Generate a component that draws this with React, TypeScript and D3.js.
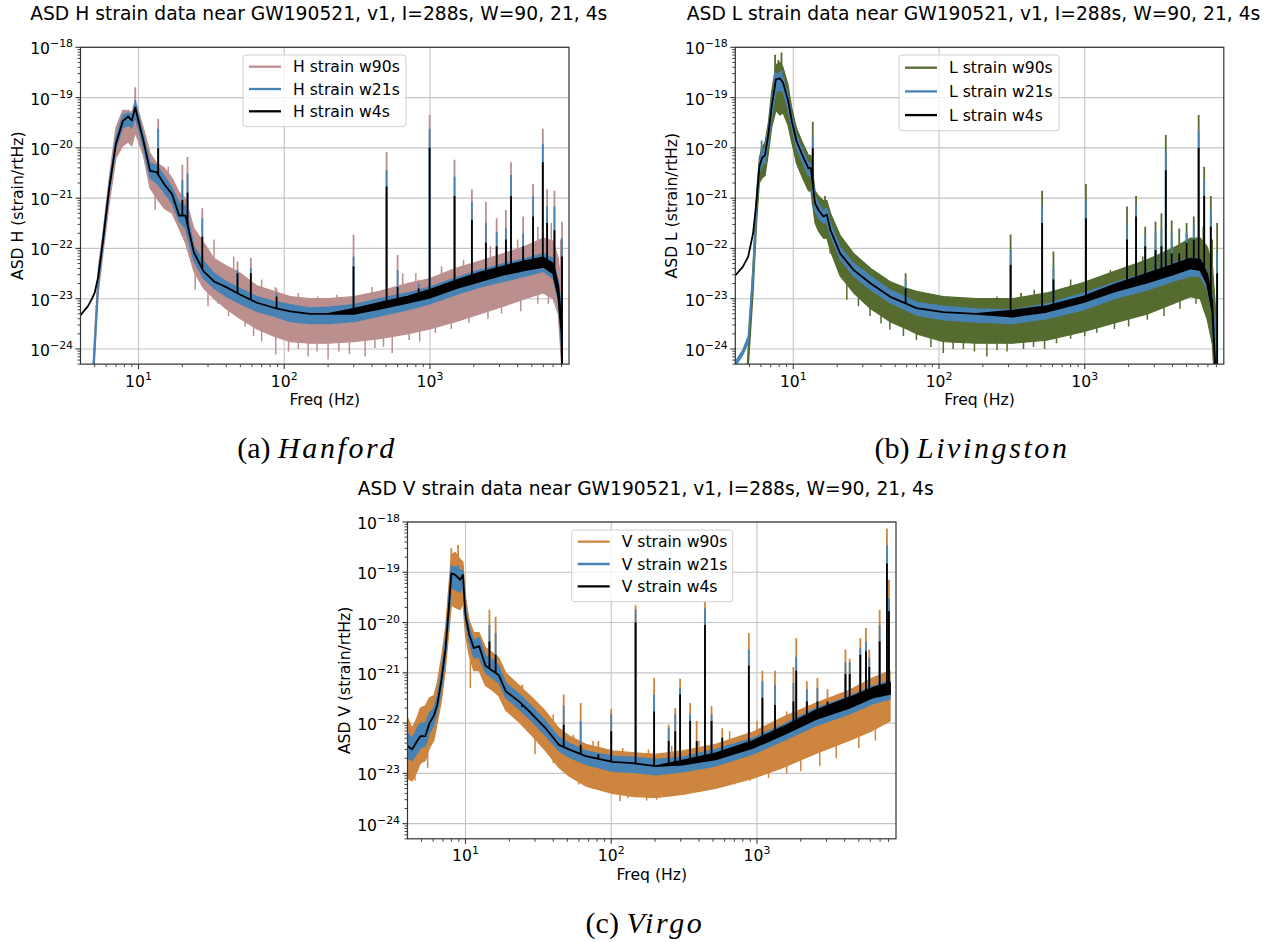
import React from "react";
import * as d3 from "d3";

// ---------- shared axes ----------
const xDomain: [number, number] = [4, 9000];
const yDomain: [number, number] = [5e-25, 1e-18];
const xTicks = [10, 100, 1000];
const yTicks = [1e-24, 1e-23, 1e-22, 1e-21, 1e-20, 1e-19, 1e-18];
const windows = ["w90s", "w21s", "w4s"];

// ---------- Hanford (H) ----------
const hFreq = [4.0, 4.5, 4.8, 5.0, 5.3, 5.7, 6.3, 7.0, 7.8, 8.5, 9.0, 9.5, 10.8, 12, 13.3, 15, 17, 19, 21, 24, 28, 33, 40, 50, 65, 85, 110, 150, 200, 300, 450, 700, 1000, 1500, 2200, 3200, 4500, 6000, 7000, 7600, 8000, 8192];
const h90Lo = [1e-26, 1e-26, 1e-25, 7.9e-25, 1.3e-23, 7.9e-23, 7.9e-22, 6.3e-21, 1.1e-20, 1.3e-20, 1.1e-20, 2.0e-20, 7.1e-21, 1.6e-21, 1.0e-21, 6.3e-22, 5.0e-22, 2.5e-22, 1.3e-22, 3.5e-23, 1.6e-23, 1.0e-23, 6.3e-24, 4.0e-24, 2.5e-24, 1.8e-24, 1.4e-24, 1.3e-24, 1.3e-24, 1.4e-24, 1.6e-24, 2.0e-24, 2.5e-24, 3.5e-24, 5.0e-24, 7.1e-24, 1.0e-23, 1.3e-23, 1.0e-23, 5.0e-24, 5.0e-25, 1e-26];
const h90Hi = [1e-26, 1e-26, 2.0e-25, 2.0e-24, 4.0e-23, 2.0e-22, 2.5e-21, 2.5e-20, 5.6e-20, 5.6e-20, 5.0e-20, 8.9e-20, 2.5e-20, 7.9e-21, 5.0e-21, 4.0e-21, 2.5e-21, 1.3e-21, 1.0e-21, 2.5e-22, 1.3e-22, 6.3e-23, 4.5e-23, 3.2e-23, 1.8e-23, 1.4e-23, 1.1e-23, 1.0e-23, 1.0e-23, 1.1e-23, 1.4e-23, 2.0e-23, 2.5e-23, 4.0e-23, 5.6e-23, 7.9e-23, 1.1e-22, 1.6e-22, 1.4e-22, 6.3e-23, 1.6e-23, 1e-26];
const h21Lo = [1e-26, 1e-26, 1e-25, 6.3e-25, 1.8e-23, 1.1e-22, 1.3e-21, 1.0e-20, 2.5e-20, 2.8e-20, 2.5e-20, 4.0e-20, 1.0e-20, 2.5e-21, 2.0e-21, 1.3e-21, 7.9e-22, 3.5e-22, 2.5e-22, 5.6e-23, 2.5e-23, 1.6e-23, 1.1e-23, 7.9e-24, 5.6e-24, 4.5e-24, 3.5e-24, 3.2e-24, 3.2e-24, 3.5e-24, 4.5e-24, 6.0e-24, 7.9e-24, 1.2e-23, 1.7e-23, 2.2e-23, 2.8e-23, 3.5e-23, 2.5e-23, 8.9e-24, 1.0e-24, 1e-26];
const h21Hi = [1e-26, 1e-26, 1.6e-25, 1.6e-24, 3.2e-23, 1.8e-22, 2.0e-21, 1.6e-20, 4.5e-20, 5.0e-20, 4.5e-20, 7.9e-20, 1.8e-20, 5.0e-21, 4.5e-21, 2.8e-21, 1.6e-21, 7.9e-22, 7.1e-22, 1.1e-22, 5.6e-23, 3.2e-23, 2.2e-23, 1.6e-23, 1.1e-23, 8.9e-24, 7.6e-24, 6.6e-24, 6.8e-24, 7.6e-24, 1.0e-23, 1.3e-23, 1.7e-23, 2.6e-23, 3.7e-23, 5.0e-23, 6.3e-23, 7.9e-23, 6.3e-23, 2.2e-23, 6.3e-24, 1e-26];
const h4Lo = [4.7e-24, 7.1e-24, 1.0e-23, 1.3e-23, 2.8e-23, 1.4e-22, 1.6e-21, 1.2e-20, 3.4e-20, 4.2e-20, 3.5e-20, 6.3e-20, 1.4e-20, 3.5e-21, 3.3e-21, 1.9e-21, 1.2e-21, 4.5e-22, 4.5e-22, 8.3e-23, 3.5e-23, 2.2e-23, 1.7e-23, 1.2e-23, 8.3e-24, 6.6e-24, 5.6e-24, 5.0e-24, 5.0e-24, 5.0e-24, 6.3e-24, 8.3e-24, 1.05e-23, 1.6e-23, 2.2e-23, 3.0e-23, 3.7e-23, 4.3e-23, 3.2e-23, 1.1e-23, 2.0e-24, 1e-26];
const h4Hi = [4.7e-24, 7.1e-24, 1.0e-23, 1.3e-23, 2.8e-23, 1.4e-22, 1.6e-21, 1.2e-20, 3.4e-20, 4.2e-20, 3.5e-20, 6.3e-20, 1.4e-20, 3.5e-21, 3.3e-21, 1.9e-21, 1.2e-21, 4.5e-22, 4.5e-22, 8.3e-23, 3.5e-23, 2.2e-23, 1.7e-23, 1.2e-23, 8.3e-24, 6.6e-24, 5.6e-24, 5.0e-24, 5.0e-24, 6.3e-24, 8.3e-24, 1.1e-23, 1.5e-23, 2.3e-23, 3.3e-23, 4.4e-23, 5.6e-23, 6.6e-23, 5.0e-23, 1.8e-23, 3.2e-24, 1e-26];
// spectral lines: peak of each window
const hLineFreq = [9.5, 13.65, 20, 21.7, 27.4, 47.8, 59, 88.6, 299, 504, 600, 837, 995, 1475, 1940, 2420, 2870, 3320, 3600, 4360, 5100, 5950, 6370, 7150, 8060];
const hLine90 = [1.6e-19, 3.8e-20, 4.6e-21, 6.6e-21, 6.3e-22, 5.5e-23, 6.5e-23, 1.6e-23, 1.9e-22, 8.3e-21, 7.4e-23, 2.4e-23, 4.5e-20, 5.8e-21, 1.5e-21, 8.5e-22, 4.0e-22, 5.8e-22, 5.2e-21, 4.3e-22, 1.9e-21, 2.4e-20, 1.5e-21, 1.4e-21, 3.4e-22];
const hLine21 = [8.9e-20, 2.4e-20, 2.3e-21, 3.1e-21, 4.0e-22, 3.7e-23, 4.1e-23, 1.3e-23, 6.9e-23, 3.6e-21, 3.7e-23, 2.0e-23, 2.4e-20, 2.7e-21, 8.5e-22, 3.2e-22, 2.1e-22, 2.5e-22, 2.9e-21, 2.0e-22, 1.1e-21, 1.2e-20, 6.8e-22, 6.8e-22, 1.6e-22];
const hLine4 = [6.5e-20, 9.8e-21, 9.1e-22, 1.3e-21, 1.7e-22, 3.2e-23, 3.2e-23, 1.1e-23, 4.4e-23, 1.7e-21, 1.7e-23, 1.6e-23, 1.0e-20, 1.1e-21, 3.7e-22, 1.3e-22, 1.1e-22, 1.5e-22, 1.1e-21, 1.1e-22, 4.3e-22, 5.2e-21, 3.2e-22, 2.3e-22, 6.9e-23];
// noise hairs of the 90 s window: deepest dips and highest excursions
const hDipFreq = [13.0, 24.5, 30, 35, 41.5, 54, 61.6, 70, 87.5, 107, 125, 146, 168, 200, 237, 280, 359, 419, 480, 551, 720, 850, 1090, 1400, 1850, 2500, 3100, 4200, 5500, 6500];
const hDip90 = [5.8e-22, 1.5e-23, 7.1e-24, 7.9e-24, 4.5e-24, 2.8e-24, 1.8e-24, 1.4e-24, 7.8e-25, 8.9e-25, 1.0e-24, 7.1e-25, 8.9e-25, 6.2e-25, 8.9e-25, 7.9e-25, 7.1e-25, 1.05e-24, 1.1e-24, 8.3e-25, 1.5e-24, 1.4e-24, 2.1e-24, 2.5e-24, 3.3e-24, 4.0e-24, 5.1e-24, 5.6e-24, 7.9e-24, 7.9e-24];
const hHairFreq = [16, 23, 33, 45, 70, 87, 125, 170, 230, 400, 650, 800, 1200, 1700, 2600, 4000, 5500, 6800, 7900];
const hHair90 = [4.2e-21, 2.7e-22, 1.5e-22, 6.9e-23, 2.4e-23, 1.7e-23, 1.3e-23, 1.1e-23, 1.2e-23, 1.7e-23, 3.2e-23, 3.2e-23, 4.4e-23, 5.9e-23, 1.1e-22, 1.5e-22, 2.7e-22, 3.2e-22, 1.5e-22];

// ---------- Livingston (L) ----------
const lFreq = [4.0, 4.5, 4.9, 5.3, 5.6, 5.85, 6.1, 6.4, 6.75, 7.1, 7.6, 8.1, 8.5, 9.2, 9.75, 10.5, 11.4, 12.7, 13.2, 14.1, 14.9, 16.1, 17, 18, 21, 26, 34, 46, 60, 70, 107, 180, 320, 550, 980, 1600, 2700, 4000, 5300, 6200, 6900, 7500, 7900, 8192];
const l90Lo = [1e-26, 1e-26, 4.0e-25, 1.3e-23, 3.2e-22, 2.0e-21, 2.5e-21, 2.8e-21, 7.9e-21, 2.5e-20, 5.6e-20, 4.5e-20, 5.0e-20, 2.8e-20, 1.3e-20, 5.0e-21, 2.8e-21, 1.4e-21, 1.4e-21, 3.2e-22, 2.2e-22, 1.6e-22, 1.6e-22, 8.9e-23, 2.8e-23, 1.3e-23, 6.3e-24, 3.5e-24, 2.5e-24, 2.0e-24, 1.4e-24, 1.3e-24, 1.3e-24, 1.5e-24, 2.2e-24, 3.3e-24, 5.0e-24, 7.9e-24, 1.1e-23, 1.0e-23, 4.0e-24, 1.3e-24, 1e-25, 1e-26];
const l90Hi = [1e-26, 1e-26, 1.0e-24, 5.0e-23, 1.3e-21, 6.3e-21, 1.0e-20, 1.3e-20, 3.2e-20, 1.3e-19, 4.5e-19, 5.0e-19, 4.0e-19, 1.8e-19, 6.3e-20, 2.5e-20, 1.4e-20, 7.1e-21, 7.1e-21, 1.4e-21, 1.1e-21, 8.9e-22, 8.9e-22, 5.0e-22, 1.8e-22, 7.9e-23, 4.0e-23, 2.2e-23, 1.6e-23, 1.4e-23, 1.1e-23, 1.0e-23, 1.0e-23, 1.3e-23, 2.1e-23, 3.5e-23, 6.0e-23, 1.0e-22, 1.6e-22, 1.6e-22, 1.1e-22, 5.0e-23, 6.3e-24, 1e-26];
const l21Lo = [4.5e-25, 7.6e-25, 1.3e-24, 2.5e-23, 6.3e-22, 3.2e-21, 4.5e-21, 5.0e-21, 1.3e-20, 4.0e-20, 1.3e-19, 1.4e-19, 1.3e-19, 5.6e-20, 2.5e-20, 1.0e-20, 5.6e-21, 2.8e-21, 2.8e-21, 5.6e-22, 4.0e-22, 3.2e-22, 3.2e-22, 1.8e-22, 6.0e-23, 2.8e-23, 1.5e-23, 8.3e-24, 5.8e-24, 4.7e-24, 3.8e-24, 3.4e-24, 3.2e-24, 4.0e-24, 6.0e-24, 1.0e-23, 1.5e-23, 2.2e-23, 2.8e-23, 2.8e-23, 1.6e-23, 5.0e-24, 3.2e-25, 1e-26];
const l21Hi = [5.6e-25, 9.5e-25, 1.8e-24, 4.5e-23, 1.1e-21, 5.0e-21, 7.9e-21, 1.0e-20, 2.5e-20, 8.9e-20, 2.8e-19, 3.2e-19, 2.5e-19, 1.1e-19, 4.5e-20, 1.8e-20, 1.0e-20, 5.0e-21, 5.0e-21, 1.1e-21, 7.9e-22, 5.6e-22, 6.3e-22, 3.2e-22, 1.05e-22, 5.0e-23, 2.8e-23, 1.5e-23, 1.07e-23, 8.5e-24, 7.1e-24, 6.3e-24, 6.0e-24, 7.9e-24, 1.3e-23, 2.1e-23, 3.3e-23, 5.0e-23, 6.6e-23, 6.3e-23, 3.5e-23, 1.1e-23, 1.6e-24, 1e-26];
const l4Lo = [2.9e-23, 4.3e-23, 6.8e-23, 2.0e-22, 9.1e-22, 4.2e-21, 6.3e-21, 7.2e-21, 1.9e-20, 6.5e-20, 2.3e-19, 2.4e-19, 2.0e-19, 8.9e-20, 3.5e-20, 1.4e-20, 7.8e-21, 3.9e-21, 4.0e-21, 7.9e-22, 5.8e-22, 4.3e-22, 4.7e-22, 2.3e-22, 7.9e-23, 3.7e-23, 2.0e-23, 1.1e-23, 7.9e-24, 6.5e-24, 5.4e-24, 5.0e-24, 4.4e-24, 5.5e-24, 8.5e-24, 1.4e-23, 2.1e-23, 3.0e-23, 4.0e-23, 3.7e-23, 2.0e-23, 5.6e-24, 3.2e-25, 1e-26];
const l4Hi = [2.9e-23, 4.3e-23, 6.8e-23, 2.0e-22, 9.1e-22, 4.2e-21, 6.3e-21, 7.2e-21, 1.9e-20, 6.5e-20, 2.3e-19, 2.4e-19, 2.0e-19, 8.9e-20, 3.5e-20, 1.4e-20, 7.8e-21, 3.9e-21, 4.0e-21, 7.9e-22, 5.8e-22, 4.3e-22, 4.7e-22, 2.3e-22, 7.9e-23, 3.7e-23, 2.0e-23, 1.1e-23, 7.9e-24, 6.5e-24, 5.4e-24, 5.0e-24, 5.8e-24, 7.1e-24, 1.1e-23, 1.9e-23, 3.2e-23, 4.7e-23, 6.3e-23, 6.0e-23, 3.2e-23, 8.9e-24, 3.2e-25, 1e-26];
const lLineFreq = [6.06, 7.5, 7.9, 8.3, 13.6, 16.5, 59, 310, 365, 510, 610, 1020, 1950, 2250, 2600, 3060, 3360, 3600, 3950, 4450, 5000, 5600, 6050, 6600, 7330, 8100];
const lLine90 = [1.0e-20, 7.1e-19, 5.6e-19, 7.9e-19, 3.3e-20, 1.1e-21, 3.2e-23, 1.9e-22, 1.3e-23, 1.4e-21, 8.7e-23, 1.9e-21, 6.8e-22, 1.1e-21, 2.7e-22, 3.4e-22, 5.0e-22, 1.8e-20, 3.6e-22, 2.5e-22, 3.2e-22, 4.3e-22, 4.5e-20, 4.2e-21, 1.1e-21, 3.2e-22];
const lLine21 = [1.4e-20, 3.2e-19, null, 3.5e-19, 1.7e-20, null, 2.4e-23, 9.3e-23, null, 6.8e-22, 4.4e-23, 9.1e-22, 3.2e-22, 7.2e-22, 1.8e-22, 2.0e-22, 2.5e-22, 8.9e-21, 2.0e-22, null, 2.0e-22, 2.8e-22, 2.2e-20, 2.3e-21, 5.8e-22, 7.9e-23];
const lLine4 = [null, null, null, null, 9.8e-21, null, 1.6e-23, 4.7e-23, null, 3.2e-22, 2.4e-23, 4.0e-22, 1.5e-22, 4.3e-22, 1.1e-22, 9.3e-23, 1.1e-22, 3.6e-21, 7.9e-23, 7.9e-23, 1.3e-22, 1.5e-22, 1.0e-20, 1.1e-21, 2.7e-22, 3.2e-23];
const lDipFreq = [17.9, 23.3, 28, 33.6, 40, 46, 57, 70, 88, 107, 125, 147, 175, 213, 250, 293, 380, 445, 530, 640, 800, 1000, 1210, 1600, 2000, 2690, 3500, 4500, 5800];
const lDip90 = [7.9e-23, 9.5e-24, 7.1e-24, 4.5e-24, 3.2e-24, 2.4e-24, 1.8e-24, 1.5e-24, 1.1e-24, 8.3e-25, 1.0e-24, 1.0e-24, 8.9e-25, 7.1e-25, 9.5e-25, 8.9e-25, 1.0e-24, 1.1e-24, 1.0e-24, 1.3e-24, 1.6e-24, 1.8e-24, 2.1e-24, 2.5e-24, 2.8e-24, 3.8e-24, 4.5e-24, 6.3e-24, 7.9e-24];
const lHairFreq = [20, 30, 45, 80, 130, 250, 450, 800, 1500, 2500, 4000, 5000, 6500, 7500];
const lHair90 = [1.26e-22, 3.7e-23, 2.0e-23, 1.1e-23, 1.0e-23, 1.1e-23, 1.5e-23, 2.4e-23, 3.7e-23, 6.9e-23, 1.1e-22, 2.0e-22, 2.7e-22, 1.5e-22];

// ---------- Virgo (V) ----------
const vFreq = [4.0, 4.3, 4.66, 4.9, 5.3, 5.66, 6.06, 6.4, 6.84, 7.3, 7.68, 8.0, 8.5, 9.2, 9.6, 10.0, 10.6, 11.4, 12.4, 13.7, 15.3, 16.9, 18.9, 23.3, 28.7, 35.5, 43.8, 51.3, 67, 102, 139, 202, 308, 520, 935, 1500, 2540, 4300, 6200, 8192];
const v90Lo = [7.9e-24, 7.1e-24, 1.1e-23, 1.6e-23, 1.8e-23, 3.2e-23, 4.5e-23, 1.0e-22, 2.8e-22, 1.3e-21, 6.3e-21, 2.2e-20, 2.0e-20, 1.8e-20, 2.5e-20, 5.6e-21, 2.2e-21, 1.1e-21, 1.1e-21, 5.6e-22, 4.5e-22, 3.5e-22, 1.8e-22, 1.05e-22, 5.6e-23, 2.8e-23, 1.3e-23, 8.9e-24, 5.6e-24, 4.0e-24, 3.5e-24, 3.3e-24, 3.8e-24, 5.0e-24, 7.9e-24, 1.3e-23, 2.5e-23, 4.5e-23, 7.1e-23, 1.1e-22];
const v90Hi = [1.3e-22, 7.9e-23, 1.3e-22, 2.0e-22, 2.2e-22, 3.2e-22, 3.5e-22, 6.3e-22, 2.0e-21, 7.9e-21, 5.0e-20, 2.2e-19, 2.5e-19, 1.8e-19, 1.6e-19, 3.2e-20, 1.1e-20, 6.3e-21, 6.3e-21, 3.2e-21, 2.5e-21, 2.0e-21, 1.0e-21, 5.6e-22, 3.2e-22, 1.7e-22, 7.9e-23, 5.6e-23, 3.8e-23, 2.8e-23, 2.6e-23, 2.4e-23, 2.8e-23, 3.8e-23, 6.6e-23, 1.3e-22, 2.5e-22, 4.5e-22, 7.9e-22, 1.1e-21];
const v21Lo = [2.0e-23, 1.8e-23, 2.5e-23, 3.2e-23, 3.5e-23, 6.3e-23, 8.9e-23, 1.6e-22, 4.5e-22, 2.0e-21, 1.1e-20, 5.0e-20, 4.5e-20, 4.0e-20, 5.0e-20, 1.0e-20, 4.0e-21, 2.0e-21, 2.0e-21, 1.0e-21, 7.9e-22, 6.3e-22, 3.2e-22, 1.9e-22, 1.07e-22, 5.6e-23, 2.8e-23, 2.1e-23, 1.5e-23, 1.1e-23, 1.05e-23, 9.3e-24, 1.07e-23, 1.4e-23, 2.4e-23, 4.4e-23, 8.9e-23, 1.5e-22, 2.4e-22, 3.0e-22];
const v21Hi = [6.3e-23, 5.0e-23, 7.9e-23, 1.0e-22, 1.0e-22, 1.6e-22, 2.0e-22, 3.5e-22, 1.1e-21, 5.0e-21, 3.2e-20, 1.3e-19, 1.3e-19, 1.1e-19, 1.1e-19, 2.2e-20, 7.9e-21, 4.5e-21, 5.0e-21, 2.2e-21, 1.8e-21, 1.4e-21, 6.3e-22, 3.8e-22, 2.1e-22, 1.1e-22, 5.2e-23, 4.0e-23, 2.8e-23, 2.2e-23, 2.1e-23, 1.9e-23, 2.1e-23, 3.0e-23, 5.0e-23, 9.3e-23, 2.0e-22, 3.4e-22, 5.4e-22, 7.1e-22];
const v4Lo = [3.5e-23, 3.0e-23, 4.4e-23, 5.5e-23, 5.5e-23, 1.0e-22, 1.4e-22, 2.3e-22, 7.2e-22, 3.1e-21, 1.9e-20, 9.5e-20, 8.9e-20, 7.1e-20, 8.9e-20, 1.4e-20, 5.8e-21, 3.1e-21, 3.4e-21, 1.4e-21, 1.1e-21, 9.1e-22, 4.3e-22, 2.7e-22, 1.5e-22, 7.9e-23, 3.7e-23, 3.0e-23, 2.2e-23, 1.7e-23, 1.6e-23, 1.4e-23, 1.5e-23, 1.9e-23, 3.2e-23, 5.8e-23, 1.2e-22, 2.0e-22, 3.2e-22, 3.8e-22];
const v4Hi = [3.5e-23, 3.0e-23, 4.4e-23, 5.5e-23, 5.5e-23, 1.0e-22, 1.4e-22, 2.3e-22, 7.2e-22, 3.1e-21, 1.9e-20, 9.5e-20, 8.9e-20, 7.1e-20, 8.9e-20, 1.4e-20, 5.8e-21, 3.1e-21, 3.4e-21, 1.4e-21, 1.1e-21, 9.1e-22, 4.3e-22, 2.7e-22, 1.5e-22, 7.9e-23, 3.7e-23, 3.0e-23, 2.2e-23, 1.7e-23, 1.6e-23, 1.4e-23, 1.8e-23, 2.5e-23, 4.4e-23, 8.3e-23, 1.8e-22, 3.2e-22, 5.0e-22, 6.3e-22];
const vLineFreq = [8.0, 8.9, 9.6, 14.6, 16.1, 24.5, 34.5, 47.2, 61.7, 81.6, 100, 147, 197, 248, 275, 297, 348, 386, 440, 488, 578, 880, 1090, 1330, 1780, 1860, 2200, 2600, 3050, 4050, 4330, 5120, 5600, 5900, 6950, 7800, 8050];
const vLine90 = [3.0e-19, 3.5e-19, 1.4e-19, 1.8e-20, 1.3e-20, 5.8e-22, 1.7e-22, 3.7e-22, 2.5e-22, 4.4e-23, 1.9e-22, 2.2e-20, 7.9e-22, 9.3e-23, 2.0e-22, 7.6e-22, 2.5e-22, 1.1e-22, 2.6e-20, 2.2e-22, 7.9e-23, 6.2e-21, 1.1e-21, 1.1e-21, 1.3e-21, 4.9e-21, 6.8e-22, 7.9e-22, 4.7e-22, 2.9e-21, 1.9e-21, 4.9e-21, 7.8e-21, 2.9e-21, 1.8e-20, 7.4e-19, 7.1e-20];
const vLine21 = [1.4e-19, 1.4e-19, 8.9e-20, 8.9e-21, 6.2e-21, 3.5e-22, null, 2.2e-22, 1.1e-22, null, 1.5e-22, 1.8e-20, 3.7e-22, 7.9e-23, 1.5e-22, 5.0e-22, 1.5e-22, null, 1.9e-20, 1.5e-22, null, 2.9e-21, 6.8e-22, 5.8e-22, 6.3e-22, 2.1e-21, 4.7e-22, 5.0e-22, null, 1.6e-21, 1.6e-21, 3.1e-21, 4.2e-21, 2.0e-21, 8.9e-21, 3.5e-19, 3.0e-20];
const vLine4 = [null, null, null, 4.2e-21, 2.3e-21, 2.1e-22, 8.9e-23, 9.3e-23, 3.7e-23, 2.4e-23, 6.9e-23, 1.0e-20, 1.7e-22, 4.4e-23, 6.9e-23, 3.7e-22, 1.1e-22, 4.4e-23, 8.9e-21, 1.1e-22, 5.1e-23, 1.4e-21, 3.2e-22, 2.3e-22, 2.7e-22, 1.1e-21, 2.7e-22, 2.7e-22, 2.7e-22, 9.5e-22, 9.5e-22, 2.3e-21, 2.7e-21, 1.3e-21, 4.2e-21, 1.5e-19, 1.7e-20];
const vDipFreq = [4.5, 5.5, 10.8, 30, 40, 48, 60, 75, 90, 115, 130, 150, 175, 205, 260, 320, 400, 520, 700, 900, 1200, 1600, 2000, 2700, 3500, 5000, 6500];
const vDip90 = [7.1e-24, 1.3e-23, 5.0e-22, 2.4e-23, 1.6e-23, 1.1e-23, 6.0e-24, 5.0e-24, 4.5e-24, 2.8e-24, 3.2e-24, 3.3e-24, 2.9e-24, 3.0e-24, 3.5e-24, 3.8e-24, 4.5e-24, 5.0e-24, 6.0e-24, 7.1e-24, 8.1e-24, 1.0e-23, 1.1e-23, 1.4e-23, 2.0e-23, 3.2e-23, 4.5e-23];
const vHairFreq = [12, 20, 30, 40, 55, 75, 120, 180, 260, 400, 650, 1000, 1600, 2800, 4500, 7000];
const vHair90 = [5.8e-21, 6.8e-22, 2.7e-22, 1.5e-22, 5.9e-23, 4.4e-23, 3.2e-23, 3.0e-23, 3.5e-23, 4.4e-23, 6.9e-23, 1.1e-22, 1.7e-22, 2.7e-22, 4.3e-22, 7.9e-22];

const BLUE = "#4682b4";
const PW = 488.5;
const PH = 316.8;
const FONT = "DejaVu Sans, sans-serif";

type Num = number | null;
interface PanelProps {
  id: string;
  det: string;
  left: number;
  top: number;
  color90: string;
  freq: number[];
  bands: [number[], number[]][];
  lineFreq: number[];
  lines: Num[][];
  hairFreq: number[];
  hair90: number[];
  legendBox: { x: number; y: number; w: number; h: number; gap: number; first: number };
}

function sup(base: string, exp: number) {
  const e = exp < 0 ? "\u2212" + Math.abs(exp) : String(exp);
  return (
    <>
      <tspan>{base}</tspan>
      <tspan fontSize={10.9} dy={-7}>{e}</tspan>
    </>
  );
}

function Panel(p: PanelProps) {
  const x = d3.scaleLog().domain(xDomain).range([p.left, p.left + PW]);
  const y = d3.scaleLog().domain(yDomain).range([p.top + PH, p.top]);
  const colors = [p.color90, BLUE, "#000000"];
  const bottom = p.top + PH;
  const right = p.left + PW;

  const area = d3.area<number>().x((f) => x(f));

  // log-log interpolation of a band edge (spike base)
  const logInterp = (vals: number[]) =>
    d3.scaleLog().domain(p.freq).range(vals.map(Math.log10)).clamp(true);

  const minorX: number[] = [];
  for (let e = 0; e <= 3; e++) for (let k = 2; k <= 9; k++) {
    const v = k * Math.pow(10, e);
    if (v > xDomain[0] && v < xDomain[1]) minorX.push(v);
  }
  const minorY: number[] = [];
  for (let e = -25; e <= -19; e++) for (let k = 2; k <= 9; k++) {
    const v = k * Math.pow(10, e);
    if (v > yDomain[0] && v < yDomain[1]) minorY.push(v);
  }

  const lb = p.legendBox;
  const title = `ASD ${p.det} strain data near GW190521, v1, I=288s, W=90, 21, 4s`;

  return (
    <g>
      <defs>
        <clipPath id={`clip-${p.id}`}>
          <rect x={p.left} y={p.top} width={PW} height={PH} />
        </clipPath>
      </defs>
      <text x={p.left + PW / 2 - 6} y={p.top - 27} fontSize={18.7} textAnchor="middle" fontFamily={FONT}>
        {title}
      </text>
      {/* grid */}
      {xTicks.map((t) => (
        <line key={"gx" + t} x1={x(t)} x2={x(t)} y1={p.top} y2={bottom} stroke="#c4c4c4" strokeWidth={1.1} />
      ))}
      {yTicks.map((t) => (
        <line key={"gy" + t} x1={p.left} x2={right} y1={y(t)} y2={y(t)} stroke="#c4c4c4" strokeWidth={1.1} />
      ))}
      <g clipPath={`url(#clip-${p.id})`}>
        {p.bands.map(([lo, hi], s) => {
          const loAt = logInterp(lo);
          const w = s === 2 ? 1.8 : 1.2;
          const d = area.y0((_, i) => y(lo[i])).y1((_, i) => y(hi[i]))(p.freq) || "";
          return (
            <g key={"s" + s}>
              <path d={d} fill={colors[s]} stroke={colors[s]} strokeWidth={w} strokeLinejoin="round" />
              {s === 0 &&
                p.hairFreq.map((f, i) => (
                  <line key={"hair" + i} x1={x(f)} x2={x(f)} y1={y(Math.pow(10, loAt(f)))} y2={y(p.hair90[i])}
                    stroke={colors[0]} strokeWidth={1.5} />
                ))}
              {p.lineFreq.map((f, i) => {
                const v = p.lines[s][i];
                if (v == null) return null;
                return (
                  <line key={"ln" + i} x1={x(f)} x2={x(f)} y1={y(Math.pow(10, loAt(f)))} y2={y(v)}
                    stroke={colors[s]} strokeWidth={1.8} />
                );
              })}
            </g>
          );
        })}
      </g>
      {/* spines */}
      <rect x={p.left} y={p.top} width={PW} height={PH} fill="none" stroke="#333" strokeWidth={1.2} />
      {/* ticks */}
      {xTicks.map((t) => (
        <g key={"xt" + t}>
          <line x1={x(t)} x2={x(t)} y1={bottom} y2={bottom + 5} stroke="#333" strokeWidth={1.1} />
          <text x={x(t)} y={bottom + 22.5} fontSize={15.6} textAnchor="middle" fontFamily={FONT}>
            {sup("10", Math.round(Math.log10(t)))}
          </text>
        </g>
      ))}
      {minorX.map((t) => (
        <line key={"mx" + t} x1={x(t)} x2={x(t)} y1={bottom} y2={bottom + 3} stroke="#333" strokeWidth={0.9} />
      ))}
      {yTicks.map((t) => (
        <g key={"yt" + t}>
          <line x1={p.left - 5} x2={p.left} y1={y(t)} y2={y(t)} stroke="#333" strokeWidth={1.1} />
          <text x={p.left - 7.5} y={y(t) + 7} fontSize={15.6} textAnchor="end" fontFamily={FONT}>
            {sup("10", Math.round(Math.log10(t)))}
          </text>
        </g>
      ))}
      {minorY.map((t) => (
        <line key={"my" + t} x1={p.left - 3} x2={p.left} y1={y(t)} y2={y(t)} stroke="#333" strokeWidth={0.9} />
      ))}
      <text x={p.left + PW / 2} y={bottom + 41} fontSize={15.6} textAnchor="middle" fontFamily={FONT}>
        Freq (Hz)
      </text>
      <text
        transform={`translate(${p.left - 58},${p.top + PH / 2}) rotate(-90)`}
        fontSize={15.6}
        textAnchor="middle"
        fontFamily={FONT}
      >
        {`ASD ${p.det} (strain/rtHz)`}
      </text>
      {/* legend */}
      <rect x={lb.x} y={lb.y} width={lb.w} height={lb.h} rx={3} fill="#fff" fillOpacity={0.8} stroke="#d0d0d0" strokeWidth={1} />
      {windows.map((w, i) => {
        const cy = lb.y + lb.first + i * lb.gap;
        return (
          <g key={"lg" + w}>
            <line x1={lb.x + 6} x2={lb.x + 38} y1={cy} y2={cy} stroke={colors[i]} strokeWidth={2.3} />
            <text x={lb.x + 50} y={cy + 5.6} fontSize={15.6} fontFamily={FONT}>
              {`${p.det} strain ${w}`}
            </text>
          </g>
        );
      })}
    </g>
  );
}

function Caption({ x, y, tag, name }: { x: number; y: number; tag: string; name: string }) {
  return (
    <text x={x} y={y} textAnchor="middle" fontSize={30} fontFamily="Liberation Serif, serif">
      <tspan>{`(${tag}) `}</tspan>
      <tspan fontStyle="italic" letterSpacing={2.6}>{name}</tspan>
    </text>
  );
}

export default function App() {
  return (
    <svg width={1269} height={942} style={{ position: "absolute", left: 0, top: 0, background: "#fff" }}>
      <rect width={1269} height={942} fill="#fff" />
      <Panel
        id="h" det="H" left={80.5} top={47.3} color90="#bc8f8f"
        freq={hFreq}
        bands={[[h90Lo, h90Hi], [h21Lo, h21Hi], [h4Lo, h4Hi]]}
        lineFreq={hLineFreq} lines={[hLine90, hLine21, hLine4]}
        hairFreq={[...hDipFreq, ...hHairFreq]} hair90={[...hDip90, ...hHair90]}
        legendBox={{ x: 243, y: 55, w: 163, h: 71.7, gap: 22.3, first: 11.7 }}
      />
      <Panel
        id="l" det="L" left={735.3} top={47.3} color90="#556b2f"
        freq={lFreq}
        bands={[[l90Lo, l90Hi], [l21Lo, l21Hi], [l4Lo, l4Hi]]}
        lineFreq={lLineFreq} lines={[lLine90, lLine21, lLine4]}
        hairFreq={[...lDipFreq, ...lHairFreq]} hair90={[...lDip90, ...lHair90]}
        legendBox={{ x: 899, y: 55, w: 160, h: 75.7, gap: 23.7, first: 12.7 }}
      />
      <Panel
        id="v" det="V" left={407.5} top={522} color90="#cd853f"
        freq={vFreq}
        bands={[[v90Lo, v90Hi], [v21Lo, v21Hi], [v4Lo, v4Hi]]}
        lineFreq={vLineFreq} lines={[vLine90, vLine21, vLine4]}
        hairFreq={[...vDipFreq, ...vHairFreq]} hair90={[...vDip90, ...vHair90]}
        legendBox={{ x: 571.7, y: 530, w: 161, h: 71.7, gap: 22.3, first: 11.7 }}
      />
      <Caption x={317} y={458} tag="a" name="Hanford" />
      <Caption x={972} y={458} tag="b" name="Livingston" />
      <Caption x={645} y={933} tag="c" name="Virgo" />
    </svg>
  );
}
